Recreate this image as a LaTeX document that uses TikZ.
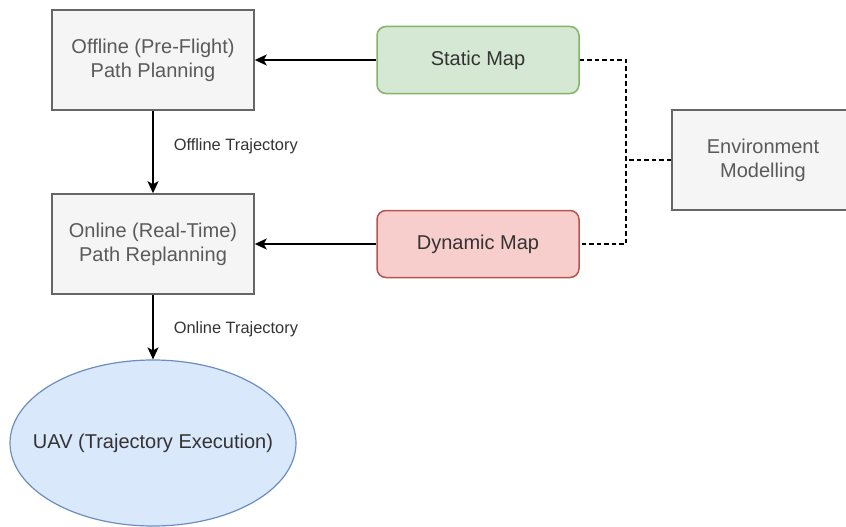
\documentclass[tikz,border=0pt]{standalone}
\usepackage{fontspec}
\setmainfont{Liberation Sans}
\usetikzlibrary{arrows.meta,shapes.geometric}

\definecolor{grayfill}{HTML}{F5F5F5}
\definecolor{graydraw}{HTML}{666666}
\definecolor{graytext}{HTML}{5A5A5A}
\definecolor{greenfill}{HTML}{D5E8D4}
\definecolor{greendraw}{HTML}{82B366}
\definecolor{redfill}{HTML}{F8CECC}
\definecolor{reddraw}{HTML}{B85450}
\definecolor{bluefill}{HTML}{DAE8FC}
\definecolor{bluedraw}{HTML}{6C8EBF}
\definecolor{darktext}{HTML}{333333}

\tikzset{
  boxtext/.style={font=\fontsize{20}{24}\selectfont, align=center, inner sep=0pt},
  graybox/.style={boxtext, rectangle, draw=graydraw, fill=grayfill, text=graytext,
    line width=1.5pt, minimum width=202pt, minimum height=100pt},
  mapbox/.style={boxtext, rectangle, rounded corners=9pt, line width=1.5pt,
    text=darktext, minimum width=202pt, minimum height=67pt},
  uavnode/.style={boxtext, ellipse, draw=bluedraw, fill=bluefill, text=darktext,
    line width=1.2pt, minimum width=286pt, minimum height=166pt},
  flow/.style={line width=1.5pt, -{Stealth[length=12pt,width=11pt,inset=3pt]}},
  dashlink/.style={line width=1.4pt, dash pattern=on 4.5pt off 3pt},
  edgelabel/.style={font=\fontsize{16.4}{19}\selectfont, text=darktext, inner sep=0pt}
}

\begin{document}
\begin{tikzpicture}[x=1pt, y=-1pt]
\useasboundingbox (0,0) rectangle (846,527);

% planning stages
\node[graybox] (offline) at (153,60) {Offline (Pre-Flight)\\Path Planning};
\node[graybox] (online) at (153,244) {Online (Real-Time)\\Path Replanning};
% zero-width label box so the ellipse keeps its own size
\node[uavnode] (uav) at (153,443) {\makebox[0pt]{UAV (Trajectory Execution)}};

% map sources
\node[mapbox, draw=greendraw, fill=greenfill] (static) at (478,60) {Static Map};
\node[mapbox, draw=reddraw, fill=redfill] (dynamic) at (478,244) {Dynamic Map};

% environment model
\node[graybox, minimum width=182pt] (env) at (763,160) {Environment\\Modelling};

% trajectory flow
\draw[flow] (offline.south) -- node[edgelabel, pos=0.43, anchor=west, xshift=20pt] {Offline Trajectory} (online.north);
\draw[flow] (online.south) -- node[edgelabel, pos=0.53, anchor=west, xshift=20pt] {Online Trajectory} (uav.north);

% maps feed the planners
\draw[flow] (static.west) -- (offline.east);
\draw[flow] (dynamic.west) -- (online.east);

% environment model links both maps
\coordinate (bus) at (626,160);
\draw[dashlink] (static.east) -| (bus) |- (dynamic.east);
\draw[dashlink] (env.west) -- (bus);
\end{tikzpicture}
\end{document}
